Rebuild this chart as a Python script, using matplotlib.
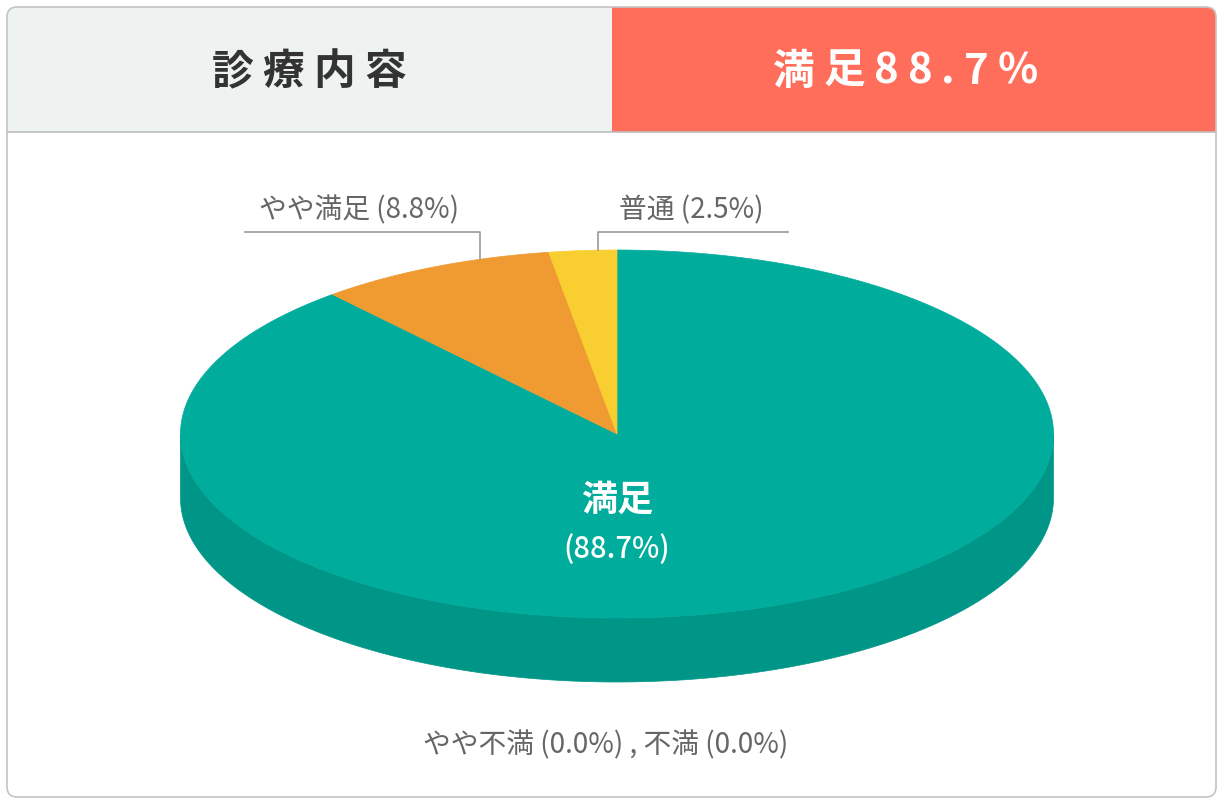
import matplotlib
matplotlib.use("Agg")
import matplotlib.pyplot as plt
from matplotlib.patches import Polygon, Rectangle, FancyBboxPatch
import numpy as np

plt.rcParams['font.family'] = ['Noto Sans CJK JP', 'DejaVu Sans']

# data
categories = ['満足', 'やや満足', '普通', 'やや不満', '不満']
values = [88.7, 8.8, 2.5, 0.0, 0.0]
top_colors = ['#00ac9c', '#f09a32', '#f8ce31', '#7fb8e0', '#9b8fd0']
side_colors = ['#009687', '#d8862a', '#ddb52a', '#6aa0c8', '#877bb8']
header_left = '診療内容'
header_right = '満足88.7%'

W, H = 1226, 801
fig = plt.figure(figsize=(W / 100, H / 100), dpi=100)
ax = fig.add_axes([0, 0, 1, 1])
ax.set_xlim(0, W)
ax.set_ylim(H, 0)
ax.axis('off')

# outer frame and header
frame = FancyBboxPatch((7, 7), 1209, 790, boxstyle='round,pad=0,rounding_size=10',
                       facecolor='white', edgecolor='none', zorder=0)
ax.add_patch(frame)
left_box = Rectangle((7, 7), 605, 125, facecolor='#eef2f1', edgecolor='none', zorder=1)
right_box = Rectangle((612, 7), 604, 125, facecolor='#ff6e5a', edgecolor='none', zorder=1)
for p in (left_box, right_box):
    ax.add_patch(p)
    p.set_clip_path(frame)
ax.plot([7, 1216], [132, 132], color='#bdbdbd', lw=1.2, zorder=2)
ax.add_patch(FancyBboxPatch((7, 7), 1209, 790, boxstyle='round,pad=0,rounding_size=10',
                            facecolor='none', edgecolor='#c4c4c4', lw=1.2, zorder=3))


def spaced_text(x_left, y, s, spacing, **kw):
    fig.canvas.draw()
    r = fig.canvas.get_renderer()
    x = x_left
    for ch in s:
        t = ax.text(x, y, ch, ha='left', va='center', **kw)
        bb = t.get_window_extent(renderer=r)
        x += bb.width + spacing


spaced_text(212, 72, header_left, 9, fontsize=30, fontweight='bold', color='#333333', zorder=4)
spaced_text(773, 72, header_right, 9, fontsize=30, fontweight='bold', color='white', zorder=4)

# 3d-ish pie
cx, cy, rx, ry, depth = 617, 434, 436.5, 184, 64


def pt(theta_deg, dy=0):
    t = np.radians(theta_deg)
    return cx + rx * np.cos(t), cy - ry * np.sin(t) + dy


start = 90.0
wedges = []
for v in values:
    span = v / sum(values) * 360
    wedges.append((start - span, start))
    start -= span

# side walls (front half only, angles 180..360)
for (a0, a1), c in zip(wedges, side_colors):
    for shift in (-360, 0, 360):
        lo = max(a0 + shift, 180)
        hi = min(a1 + shift, 360)
        if hi <= lo:
            continue
        th = np.linspace(lo, hi, 200)
        top = [pt(t) for t in th]
        bot = [pt(t, depth) for t in th[::-1]]
        ax.add_patch(Polygon(top + bot, closed=True, facecolor=c, edgecolor=c, lw=0.5, zorder=5))

# top faces
for (a0, a1), c in zip(wedges, top_colors):
    if a1 - a0 <= 0:
        continue
    th = np.linspace(a0, a1, 400)
    poly = [(cx, cy)] + [pt(t) for t in th]
    ax.add_patch(Polygon(poly, closed=True, facecolor=c, edgecolor=c, lw=0.5, zorder=6))

# labels
ax.text(617, 500, categories[0], ha='center', va='center', fontsize=26,
        fontweight='bold', color='white', zorder=8)
ax.text(617, 549, f'({values[0]}%)', ha='center', va='center', fontsize=21,
        fontweight='medium', color='white', zorder=8)

line_c = '#9a9a9a'
lab_kw = dict(va='center', fontsize=20, color='#666666', zorder=8)
# やや満足 leader
lx = 480
ax.plot([245, lx, lx], [232, 232, pt(180 - np.degrees(np.arccos((lx - cx) / rx)))[1]],
        color=line_c, lw=1.2, zorder=7)
ax.text(259, 210, f'{categories[1]} ({values[1]}%)', ha='left', **lab_kw)
# 普通 leader
lx2 = 598
ax.plot([788, lx2, lx2], [232, 232, pt(np.degrees(np.arccos((lx2 - cx) / rx)))[1]],
        color=line_c, lw=1.2, zorder=7)
ax.text(619, 210, f'{categories[2]} ({values[2]}%)', ha='left', **lab_kw)

ax.text(606, 745, f'{categories[3]} ({values[3]}%) , {categories[4]} ({values[4]}%)',
        ha='center', **lab_kw)

fig.savefig('out.png', dpi=100)
